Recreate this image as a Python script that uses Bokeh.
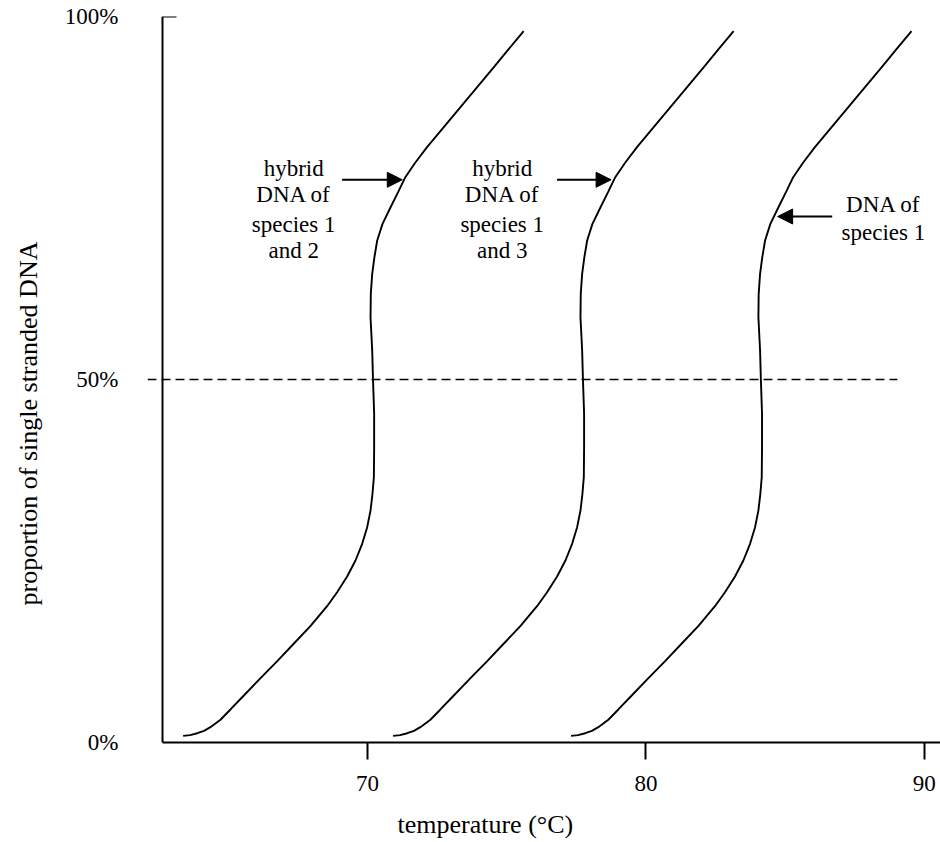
from bokeh.plotting import figure
from bokeh.models import (ColumnDataSource, FixedTicker, Title, Arrow, NormalHead,
                          Range1d, LinearAxis)
from bokeh.core.properties import value
from bokeh.embed import file_html
from bokeh.resources import INLINE

FONT = "Liberation Serif"

# proportion of single stranded DNA (%) along each melting curve
proportion = [0.92, 1.02, 1.28, 1.61, 2.11, 3.13, 4.55, 6.47, 8.86, 11.20,
              13.60, 16.02, 18.77, 20.70, 22.87, 25.07, 27.37, 29.66, 31.96, 34.26,
              36.54, 40.67, 45.28, 49.86, 54.00, 58.58, 61.80, 64.56, 66.85, 69.15,
              71.44, 73.73, 75.80, 77.87, 79.89, 82.00, 84.75, 87.51, 90.26, 93.02,
              95.50, 97.98]

# temperature (°C) – hybrid DNA of species 1 and 2
temp_hybrid_1_2 = [63.38, 63.63, 63.89, 64.13, 64.36, 64.72, 65.08, 65.56, 66.16, 66.76,
                   67.35, 67.95, 68.55, 68.91, 69.27, 69.57, 69.81, 69.99, 70.11, 70.18,
                   70.23, 70.24, 70.24, 70.20, 70.17, 70.11, 70.12, 70.17, 70.25, 70.35,
                   70.54, 70.83, 71.10, 71.36, 71.72, 72.14, 72.74, 73.34, 73.94, 74.54,
                   75.07, 75.61]

# temperature (°C) – hybrid DNA of species 1 and 3
temp_hybrid_1_3 = [70.92, 71.17, 71.43, 71.67, 71.90, 72.26, 72.62, 73.10, 73.70, 74.30,
                   74.89, 75.49, 76.09, 76.45, 76.81, 77.11, 77.35, 77.53, 77.65, 77.72,
                   77.77, 77.78, 77.78, 77.74, 77.71, 77.65, 77.66, 77.71, 77.79, 77.89,
                   78.08, 78.37, 78.64, 78.90, 79.26, 79.68, 80.28, 80.88, 81.48, 82.08,
                   82.61, 83.15]

# temperature (°C) – DNA of species 1
temp_species_1 = [77.31, 77.56, 77.82, 78.06, 78.29, 78.65, 79.01, 79.49, 80.09, 80.69,
                  81.28, 81.88, 82.48, 82.84, 83.20, 83.50, 83.74, 83.92, 84.04, 84.11,
                  84.16, 84.17, 84.17, 84.13, 84.10, 84.04, 84.05, 84.10, 84.18, 84.28,
                  84.47, 84.76, 85.03, 85.29, 85.65, 86.07, 86.67, 87.27, 87.87, 88.47,
                  89.00, 89.54]

x_ticks = [70, 80, 90]
y_ticks = [0, 50, 100]
y_tick_labels = ["0%", "50%", "100%"]
y_inner_ticks = [100]

axis_start_temp = 62.64      # where the temperature axis begins (the y axis sits here)
axis_end_temp = 90.58

half_level = 50
half_line_temps = [62.10, 89.03]

ann_text = ["hybrid", "DNA of", "species 1", "and 2",
            "hybrid", "DNA of", "species 1", "and 3",
            "DNA of", "species 1"]
ann_x = [67.35, 67.35, 67.35, 67.35,
         74.84, 74.84, 74.84, 74.84,
         88.53, 88.53]
ann_y = [79.06, 75.48, 71.35, 67.77,
         79.06, 75.48, 71.35, 67.77,
         74.10, 70.25]

# arrows: (x_start, x_end, y)
arrows = [(69.09, 71.25, 77.51), (76.81, 78.75, 77.51), (86.69, 84.73, 72.45)]

p = figure(width=940, height=842, output_backend="svg", toolbar_location=None,
           x_range=Range1d(62.10, axis_end_temp), y_range=Range1d(0, 100),
           min_border_left=147, min_border_right=0, min_border_top=16,
           min_border_bottom=100, background_fill_color="white",
           border_fill_color="white")
p.outline_line_color = None
p.xgrid.visible = False
p.ygrid.visible = False

for ax in (p.xaxis[0], p.yaxis[0]):
    ax.axis_line_width = 2
    ax.axis_line_color = "black"
    ax.major_tick_line_width = 2
    ax.major_tick_line_color = "black"
    ax.minor_tick_line_color = None
    ax.major_label_text_font = FONT
    ax.major_label_text_font_size = "23px"
    ax.major_label_text_color = "black"

p.xaxis.ticker = FixedTicker(ticks=x_ticks)
p.xaxis.bounds = (axis_start_temp, axis_end_temp)
p.xaxis.major_tick_in = 0
p.xaxis.major_tick_out = 17
p.xaxis.major_label_standoff = 16
p.xaxis.axis_label = " "
p.xaxis.axis_label_text_font_size = "8px"
p.xaxis.axis_label_standoff = 1

# y axis line and its inward top tick, drawn where the temperature axis starts
p.yaxis.ticker = FixedTicker(ticks=y_inner_ticks)
p.yaxis.fixed_location = axis_start_temp
p.yaxis.major_label_overrides = {t: "" for t in y_inner_ticks}
p.yaxis.major_tick_in = 14
p.yaxis.major_tick_out = 0

# percentage labels (axis line and ticks hidden; also pushes the title leftwards)
ylabels = LinearAxis(ticker=FixedTicker(ticks=y_ticks), axis_line_color=None,
                     major_tick_line_color=None, minor_tick_line_color=None,
                     major_tick_in=0, major_tick_out=0, minor_tick_in=0, minor_tick_out=0,
                     major_label_overrides={t: s for t, s in zip(y_ticks, y_tick_labels)},
                     major_label_text_font=FONT, major_label_text_font_size="23px",
                     major_label_text_color="black", major_label_standoff=29,
                     axis_label=" ", axis_label_text_font_size="10px",
                     axis_label_standoff=2)
p.add_layout(ylabels, "left")

# 50% reference line
p.line(half_line_temps, [half_level, half_level], line_color="black",
       line_width=1.6, line_dash="9 5")

for temps in (temp_hybrid_1_2, temp_hybrid_1_3, temp_species_1):
    p.line(temps, proportion, line_color="black", line_width=1.9)

src = ColumnDataSource(dict(x=ann_x, y=ann_y, t=ann_text))
p.text(x="x", y="y", text="t", source=src, text_font=value(FONT),
       text_font_size=value("23px"), text_align="center",
       text_baseline="middle", text_color="black")

for xs, xe, yy in arrows:
    p.add_layout(Arrow(end=NormalHead(size=15, fill_color="black", line_color="black"),
                       x_start=xs, y_start=yy, x_end=xe, y_end=yy,
                       line_width=2, line_color="black"))

p.add_layout(Title(text="temperature (°C)", align="left", offset=250,
                   text_font=FONT, text_font_size="26px", text_font_style="normal",
                   text_color="black", standoff=2), "below")
p.add_layout(Title(text="proportion of single stranded DNA", align="left", offset=137,
                   vertical_align="middle",
                   text_font=FONT, text_font_size="26px", text_font_style="normal",
                   text_color="black", standoff=4), "left")

open("out.html", "w").write(file_html(p, INLINE))
